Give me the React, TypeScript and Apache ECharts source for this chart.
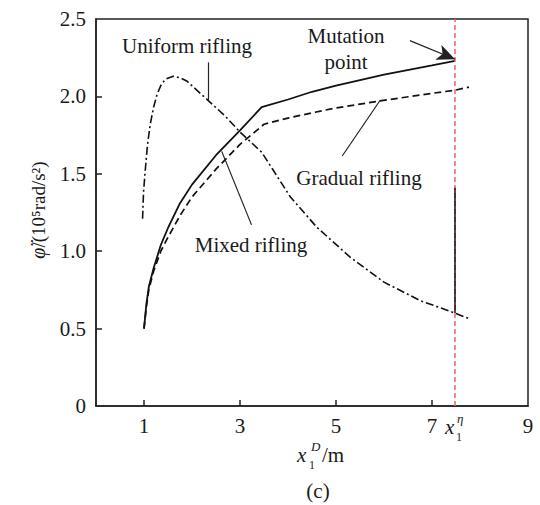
import React, { useEffect, useRef } from "react";
import * as echarts from "echarts";

// ---- data ----
const mixedX = [1.0, 1.05, 1.1, 1.2, 1.35, 1.5, 1.75, 2.0, 2.5, 3.0, 3.45, 4.0, 4.5, 5.0, 6.0, 7.0, 7.48];
const mixedY = [0.5, 0.66, 0.77, 0.89, 1.04, 1.15, 1.31, 1.43, 1.62, 1.78, 1.93, 1.98, 2.03, 2.07, 2.14, 2.2, 2.23];

const gradualX = [1.0, 1.05, 1.1, 1.2, 1.35, 1.5, 1.75, 2.0, 2.5, 3.0, 3.5, 4.0, 4.75, 5.0, 5.9, 7.0, 7.48, 7.77];
const gradualY = [0.5, 0.64, 0.75, 0.87, 1.0, 1.09, 1.23, 1.35, 1.53, 1.69, 1.82, 1.86, 1.91, 1.925, 1.97, 2.02, 2.04, 2.06];

const uniformX = [0.97, 0.99, 1.02, 1.07, 1.13, 1.2, 1.27, 1.35, 1.44, 1.61, 1.75, 1.89, 2.1, 2.35, 2.7, 3.0, 3.45, 3.7, 4.05, 4.6, 5.3, 6.0, 6.76, 7.48, 7.81];
const uniformY = [1.21, 1.38, 1.5, 1.68, 1.82, 1.93, 2.01, 2.07, 2.11, 2.13, 2.12, 2.1, 2.04, 1.97, 1.87, 1.77, 1.64, 1.52, 1.35, 1.155, 0.96, 0.8, 0.68, 0.6, 0.56];

const xTickValues = [1, 3, 5, 7];
const xLabelValues = [1, 3, 5, 7, 9];
const yTickValues = [0.5, 1, 1.5, 2];
const mutationX = 7.48;
const mutationSegment = [0.6, 1.41];

// annotation leader lines (data coords)
const uniformLeader = [[2.33, 2.22], [2.33, 1.975]];
const mixedLeader = [[3.24, 1.17], [2.62, 1.645]];
const gradualLeader = [[5.13, 1.615], [5.92, 1.975]];
const mutationArrow = [[6.54, 2.36], [7.48, 2.24]];

const FONT = "Liberation Serif, serif";

const zip = (xs: number[], ys: number[]) => xs.map((x, i) => [x, ys[i]]);

export default function App() {
  const ref = useRef<HTMLDivElement>(null);
  useEffect(() => {
    document.body.style.margin = "0";
    if (!ref.current) return;
    const chart = echarts.init(ref.current, null, { renderer: "svg" });
    const txt = (text: string, x: number, y: number, size = 21, italic = false, align = "center") => ({
      type: "text",
      x,
      y,
      silent: true,
      style: {
        text,
        fill: "#1a1a1a",
        fontFamily: FONT,
        fontSize: size,
        fontStyle: italic ? "italic" : "normal",
        textAlign: align,
        textVerticalAlign: "middle",
      },
    });
    chart.setOption({
      animation: false,
      textStyle: { fontFamily: FONT },
      grid: {
        left: 96,
        right: 12,
        top: 19,
        bottom: 99,
        show: true,
        borderColor: "#222",
        borderWidth: 1.5,
        backgroundColor: "transparent",
      },
      xAxis: {
        type: "value",
        min: 0,
        max: 9,
        interval: 1,
        axisLine: { lineStyle: { color: "#222", width: 1.5 } },
        axisTick: { inside: true, length: 6, customValues: xTickValues, lineStyle: { color: "#222", width: 1.5 } },
        axisLabel: { customValues: xLabelValues, color: "#1a1a1a", fontFamily: FONT, fontSize: 21, margin: 9 },
        splitLine: { show: false },
      },
      yAxis: {
        type: "value",
        min: 0,
        max: 2.5,
        interval: 0.5,
        axisLine: { lineStyle: { color: "#222", width: 1.5 } },
        axisTick: { inside: true, length: 6, customValues: yTickValues, lineStyle: { color: "#222", width: 1.5 } },
        axisLabel: {
          color: "#1a1a1a",
          fontFamily: FONT,
          fontSize: 21,
          margin: 10,
          formatter: (v: number) => (v === 0 ? "0" : v.toFixed(1)),
        },
        splitLine: { show: false },
      },
      series: [
        {
          name: "Mixed rifling",
          type: "line",
          data: zip(mixedX, mixedY),
          showSymbol: false,
          smooth: false,
          lineStyle: { color: "#111", width: 1.8, type: "solid" },
          markLine: {
            silent: true,
            animation: false,
            label: { show: false },
            symbol: ["none", "none"],
            data: [
              {
                xAxis: mutationX,
                lineStyle: { color: "#ff5c5c", width: 1.5, type: [5, 3] },
              },
              [
                { coord: [mutationX, mutationSegment[0]], lineStyle: { color: "#111", width: 1.5, type: "solid" } },
                { coord: [mutationX, mutationSegment[1]] },
              ],
              [{ coord: uniformLeader[0] }, { coord: uniformLeader[1] }],
              [{ coord: mixedLeader[0] }, { coord: mixedLeader[1] }],
              [{ coord: gradualLeader[0] }, { coord: gradualLeader[1] }],
              [
                { coord: mutationArrow[0], symbol: "none" },
                { coord: mutationArrow[1], symbol: "arrow", symbolSize: [12, 18] },
              ],
            ],
            lineStyle: { color: "#222", width: 1.2, type: "solid" },
          },
        },
        {
          name: "Gradual rifling",
          type: "line",
          data: zip(gradualX, gradualY),
          showSymbol: false,
          smooth: false,
          lineStyle: { color: "#111", width: 1.7, type: [7, 4] },
        },
        {
          name: "Uniform rifling",
          type: "line",
          data: zip(uniformX, uniformY),
          showSymbol: false,
          smooth: false,
          lineStyle: { color: "#111", width: 1.6, type: [8, 3, 2, 3] },
        },
      ],
      graphic: [
        txt("Uniform rifling", 187, 46),
        txt("Mixed rifling", 251, 245),
        txt("Gradual rifling", 359, 178),
        txt("Mutation", 346, 36),
        txt("point", 346, 62),
        // y-axis name (rotated)
        {
          type: "group",
          x: 38,
          y: 210,
          rotation: Math.PI / 2,
          children: [
            {
              type: "text",
              x: 0,
              y: 0,
              style: {
                text: "{p|φ̈}/(10⁵rad/s²)",
                fontFamily: FONT,
                fontSize: 19,
                fill: "#1a1a1a",
                textAlign: "center",
                textVerticalAlign: "middle",
                rich: { p: { fontStyle: "italic", fontSize: 20, fontFamily: FONT } },
              },
            },
          ],
        },
        // x-axis name: x_1^D/m
        txt("x", 297, 455, 21, true, "left"),
        txt("1", 309, 465, 12, false, "left"),
        txt("D", 311, 446, 13, true, "left"),
        txt("/m", 322, 455, 21, false, "left"),
        // x_1^eta near tick 7
        txt("x", 445, 427, 21, true, "left"),
        txt("1", 456, 437, 12, false, "left"),
        txt("η", 457, 418, 13, true, "left"),
        // caption
        txt("(c)", 318, 491),
      ],
    });
    return () => chart.dispose();
  }, []);
  return <div ref={ref} style={{ width: 540, height: 505 }} />;
}
